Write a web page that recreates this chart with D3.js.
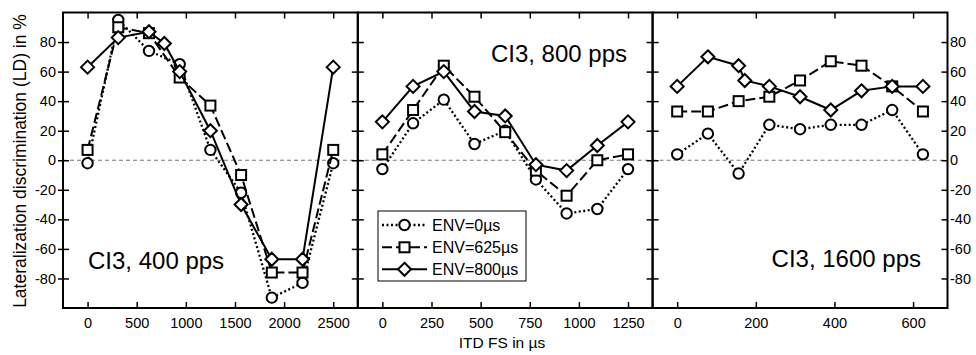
<!DOCTYPE html>
<html><head><meta charset="utf-8">
<script src="https://cdn.jsdelivr.net/npm/d3@7"></script>
<style>body{margin:0;background:#fff}</style>
</head><body><svg id="c" width="976" height="355"></svg>
<script>
// ---- data ----
const panelTitles = ["CI3, 400 pps", "CI3, 800 pps", "CI3, 1600 pps"];
const seriesNames = ["ENV=0µs", "ENV=625µs", "ENV=800µs"];
const yTicks = [-80, -60, -40, -20, 0, 20, 40, 60, 80];
const xTicks400 = [0, 500, 1000, 1500, 2000, 2500];
const xTicks800 = [0, 250, 500, 750, 1000, 1250];
const xTicks1600 = [0, 200, 400, 600];
const xDomain400 = [-250, 2750];
const xDomain800 = [-125, 1375];
const xDomain1600 = [-62.5, 687.5];

const itd400 = [0, 312.5, 625, 937.5, 1250, 1562.5, 1875, 2187.5, 2500];
const itd400env800 = [0, 312.5, 625, 781.25, 937.5, 1250, 1562.5, 1875, 2187.5, 2500];
const ld400env0 = [-2, 95, 74, 65, 7, -22, -93, -83, -2];
const ld400env625 = [7, 90, 86, 56, 37, -10, -76, -76, 7];
const ld400env800 = [63, 83, 87, 79, 60, 20, -30, -67, -67, 63];

const itd800 = [0, 156.25, 312.5, 468.75, 625, 781.25, 937.5, 1093.75, 1250];
const ld800env0 = [-6, 25, 41, 11, 20, -13, -36, -33, -6];
const ld800env625 = [4, 34, 64, 43, 19, -7, -24, 0, 4];
const ld800env800 = [26, 50, 60, 33, 30, -3, -7, 10, 26];

const itd1600 = [0, 78.125, 156.25, 234.375, 312.5, 390.625, 468.75, 546.875, 625];
const itd1600env800 = [0, 78.125, 156.25, 171.875, 234.375, 312.5, 390.625, 468.75, 546.875, 625];
const ld1600env0 = [4, 18, -9, 24, 21, 24, 24, 34, 4];
const ld1600env625 = [33, 33, 40, 43, 54, 67, 64, 50, 33];
const ld1600env800 = [50, 70, 64, 54, 50, 43, 34, 47, 50, 50];

// ---- layout ----
const svg = d3.select("#c");
const FONT = "Liberation Sans, Arial, Helvetica, sans-serif";
const yTop = 12.5, yBottom = 308;
const edges = [63, 357.8, 652.6, 947.5];
const y = d3.scaleLinear().domain([-100, 100]).range([yBottom, yTop]);

const panels = [
  {title: panelTitles[0], dom: xDomain400, ticks: xTicks400,
   series: [[itd400, ld400env0], [itd400, ld400env625], [itd400env800, ld400env800]]},
  {title: panelTitles[1], dom: xDomain800, ticks: xTicks800,
   series: [[itd800, ld800env0], [itd800, ld800env625], [itd800, ld800env800]]},
  {title: panelTitles[2], dom: xDomain1600, ticks: xTicks1600,
   series: [[itd1600, ld1600env0], [itd1600, ld1600env625], [itd1600env800, ld1600env800]]}
];

const styles = [
  {dash: "2,2.5", width: 2.3, marker: "circle"},
  {dash: "10,4", width: 2, marker: "square"},
  {dash: null, width: 2, marker: "diamond"}
];

function drawMarker(g, type, cx, cy) {
  if (type === "circle") {
    g.append("circle").attr("cx", cx).attr("cy", cy).attr("r", 5.2)
      .attr("fill", "#fff").attr("stroke", "#000").attr("stroke-width", 2);
  } else if (type === "square") {
    g.append("rect").attr("x", cx - 5).attr("y", cy - 5).attr("width", 10).attr("height", 10)
      .attr("fill", "#fff").attr("stroke", "#000").attr("stroke-width", 2);
  } else {
    const s = 6.5;
    g.append("path").attr("d", `M${cx},${cy - s}L${cx + s},${cy}L${cx},${cy + s}L${cx - s},${cy}Z`)
      .attr("fill", "#fff").attr("stroke", "#000").attr("stroke-width", 2);
  }
}

function styleAxis(g, size) {
  g.select(".domain").remove();
  g.selectAll(".tick line").attr("stroke", "#000").attr("stroke-width", 1.5);
  g.selectAll("text").attr("font-family", FONT).attr("font-size", size).attr("fill", "#000");
}

panels.forEach((p, i) => {
  const x0 = edges[i], x1 = edges[i + 1];
  const x = d3.scaleLinear().domain(p.dom).range([x0, x1]);
  const g = svg.append("g");

  // zero line
  g.append("line").attr("x1", x0).attr("x2", x1).attr("y1", y(0)).attr("y2", y(0))
    .attr("stroke", "#777").attr("stroke-width", 1).attr("stroke-dasharray", "4,3");

  // axes (inward ticks)
  const bx = g.append("g").attr("transform", `translate(0,${yBottom})`)
    .call(d3.axisBottom(x).tickValues(p.ticks).tickSizeInner(-6).tickSizeOuter(0).tickPadding(10)
      .tickFormat(d => String(d)));
  styleAxis(bx, 14.5);
  const tx = g.append("g").attr("transform", `translate(0,${yTop})`)
    .call(d3.axisTop(x).tickValues(p.ticks).tickSizeInner(-6).tickSizeOuter(0).tickFormat(""));
  styleAxis(tx, 14);
  const ly = g.append("g").attr("transform", `translate(${x0},0)`)
    .call(d3.axisLeft(y).tickValues(yTicks).tickSizeInner(-6).tickSizeOuter(0).tickFormat(""));
  styleAxis(ly, 14);
  const ry = g.append("g").attr("transform", `translate(${x1},0)`)
    .call(d3.axisRight(y).tickValues(yTicks).tickSizeInner(-6).tickSizeOuter(0).tickFormat(""));
  styleAxis(ry, 14);

  if (i === 0) {
    const oy = g.append("g").attr("transform", `translate(${x0},0)`)
      .call(d3.axisLeft(y).tickValues(yTicks).tickSizeInner(5).tickSizeOuter(0).tickPadding(2)
        .tickFormat(d => String(d)));
    styleAxis(oy, 14.5);
  }
  if (i === 2) {
    const oy = g.append("g").attr("transform", `translate(${x1},0)`)
      .call(d3.axisRight(y).tickValues(yTicks).tickSizeInner(0).tickSizeOuter(0).tickPadding(2.5)
        .tickFormat(d => String(d)));
    styleAxis(oy, 14.5);
  }

  // series
  p.series.forEach((s, k) => {
    const pts = s[0].map((xv, j) => [x(xv), y(s[1][j])]);
    g.append("path").attr("d", d3.line()(pts)).attr("fill", "none")
      .attr("stroke", "#000").attr("stroke-width", styles[k].width)
      .attr("stroke-dasharray", styles[k].dash);
    pts.forEach(pt => drawMarker(g, styles[k].marker, pt[0], pt[1]));
  });

  // frame
  g.append("rect").attr("x", x0).attr("y", yTop).attr("width", x1 - x0).attr("height", yBottom - yTop)
    .attr("fill", "none").attr("stroke", "#000").attr("stroke-width", 2);
});

// panel titles
const titleAttrs = [
  {x: 88, y: 269, anchor: "start"},
  {x: 627, y: 62, anchor: "end"},
  {x: 921, y: 267, anchor: "end"}
];
titleAttrs.forEach((t, i) => {
  svg.append("text").attr("x", t.x).attr("y", t.y).attr("text-anchor", t.anchor)
    .attr("font-family", FONT).attr("font-size", 24).text(panelTitles[i]);
});

// legend
const lg = svg.append("g");
lg.append("rect").attr("x", 378).attr("y", 211).attr("width", 148).attr("height", 70)
  .attr("fill", "#fff").attr("stroke", "#000").attr("stroke-width", 1);
const legY = [225, 247.3, 269.3];
seriesNames.forEach((name, k) => {
  lg.append("line").attr("x1", 382).attr("x2", 427).attr("y1", legY[k]).attr("y2", legY[k])
    .attr("stroke", "#000").attr("stroke-width", styles[k].width).attr("stroke-dasharray", styles[k].dash);
  drawMarker(lg, styles[k].marker, 404.5, legY[k]);
  lg.append("text").attr("x", 432).attr("y", legY[k]).attr("dy", "0.36em")
    .attr("font-family", FONT).attr("font-size", 16).text(name);
});

// axis titles
svg.append("text").attr("x", 502).attr("y", 348).attr("text-anchor", "middle")
  .attr("font-family", FONT).attr("font-size", 15.5).text("ITD FS in µs");
svg.append("text").attr("transform", "translate(26,161) rotate(-90)").attr("text-anchor", "middle")
  .attr("font-family", FONT).attr("font-size", 17.5).text("Lateralization discrimination (LD) in %");
</script></body></html>
